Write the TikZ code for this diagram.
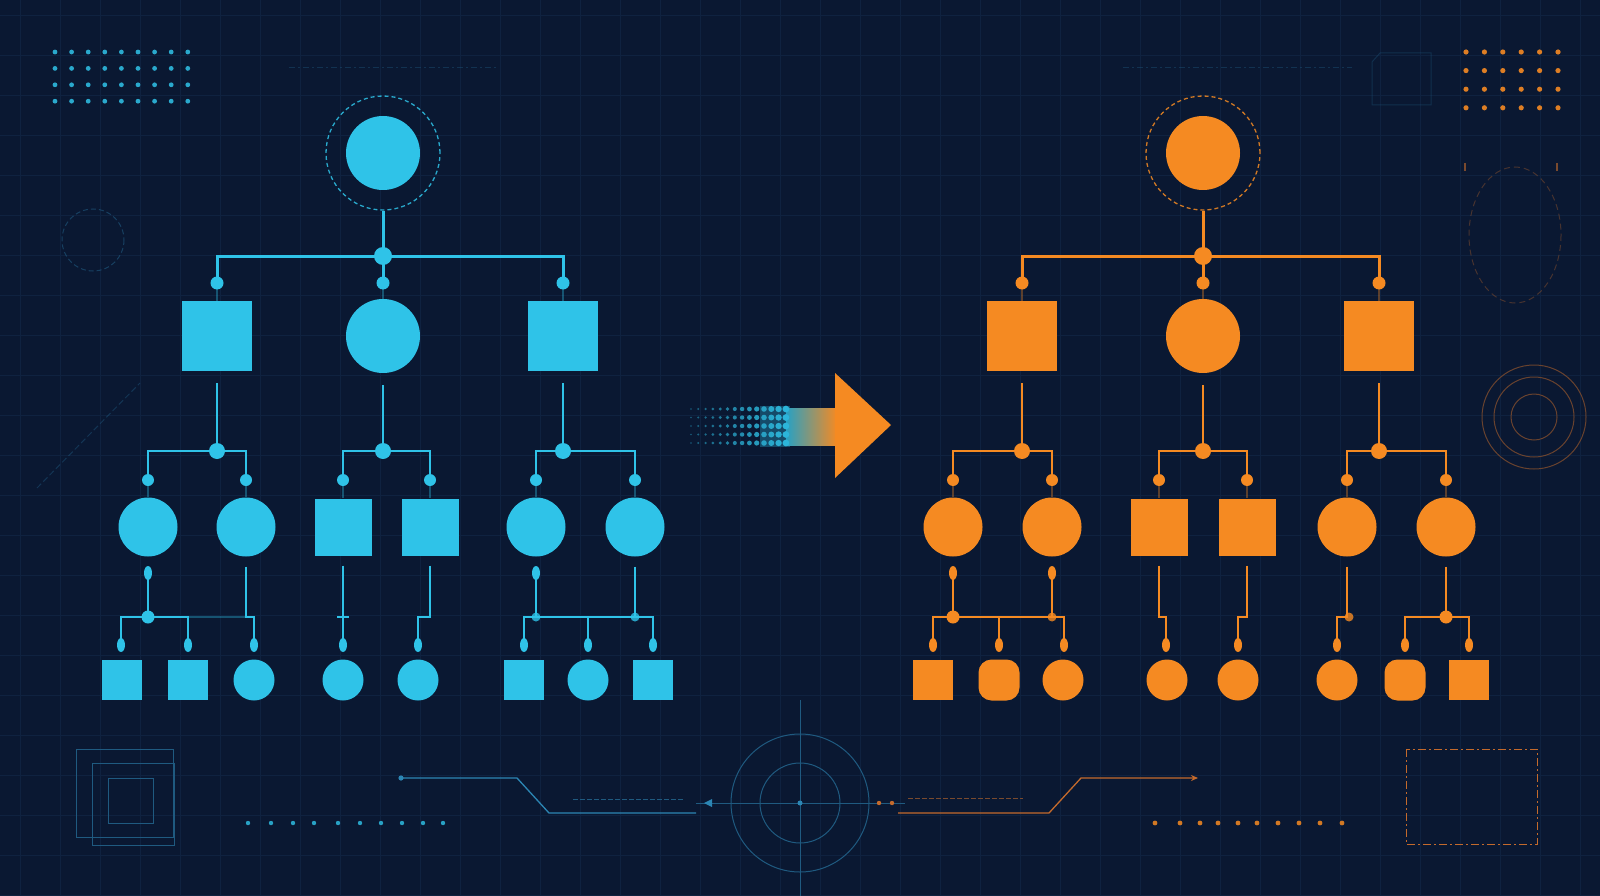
\documentclass[tikz,border=0pt]{standalone}
\usetikzlibrary{shapes.geometric,arrows.meta}
\definecolor{bg}{HTML}{0A1832}
\definecolor{cb}{HTML}{2FC3E8}
\definecolor{co}{HTML}{F58A22}
\definecolor{gridc}{HTML}{0F2240}
\definecolor{fb}{HTML}{1F5A80}
\definecolor{fbl}{HTML}{2C86B4}
\definecolor{fo}{HTML}{7A4A2E}
\definecolor{fol}{HTML}{C46A2C}
\tikzset{
  rootn/.style={circle, fill=tc, minimum size=74pt, inner sep=0pt},
  ringn/.style={circle, draw=tc, line width=1.3pt, dash pattern=on 4pt off 3pt, minimum size=114pt, inner sep=0pt, opacity=0.85},
  bigc/.style={circle, fill=tc, minimum size=74pt, inner sep=0pt},
  bigs/.style={rectangle, fill=tc, minimum size=70pt, inner sep=0pt},
  midc/.style={circle, fill=tc, minimum width=59pt, minimum height=58pt, inner sep=0pt},
  mids/.style={rectangle, fill=tc, minimum size=57pt, inner sep=0pt},
  smc/.style={ellipse, fill=tc, minimum width=41pt, minimum height=41pt, inner sep=0pt},
  sms/.style={rectangle, fill=tc, minimum size=40pt, inner sep=0pt},
  smr/.style={rectangle, rounded corners=13pt, fill=tc, minimum width=41pt, minimum height=41pt, inner sep=0pt},
  jbig/.style={circle, fill=tc, minimum size=18pt, inner sep=0pt},
  jmid/.style={circle, fill=tc, minimum size=16pt, inner sep=0pt},
  jsm/.style={circle, fill=tc, minimum size=13pt, inner sep=0pt},
  kdot/.style={circle, fill=tc, minimum size=13pt, inner sep=0pt},
  kdotb/.style={circle, fill=tc, minimum size=12pt, inner sep=0pt},
  drop/.style={ellipse, fill=tc, minimum width=8pt, minimum height=14pt, inner sep=0pt},
  blob/.style={circle, fill=tc, minimum size=9pt, inner sep=0pt, opacity=0.8},
  wa/.style={draw=tc, line width=3pt},
  wb/.style={draw=tc, line width=2.6pt},
  wc/.style={draw=tc, line width=2.3pt},
  faintl/.style={draw=tc, line width=1.4pt, opacity=0.35},
  deco/.style={line width=1pt},
}
\begin{document}
\begin{tikzpicture}[x=1pt,y=-1pt]
\useasboundingbox (0,0) rectangle (1600,896);
\fill[bg] (0,0) rectangle (1600,896);
% grid
\foreach \x in {20,60,...,1600} \draw[gridc, line width=0.7pt] (\x,0) -- (\x,896);
\foreach \y in {15,55,...,896} \draw[gridc, line width=0.7pt] (0,\y) -- (1600,\y);

% ---------- background decorations ----------
% top-left blue dot grid
\foreach \i in {0,...,8} \foreach \j in {0,...,3}
  \fill[cb!85!bg] (55+\i*16.6,52+\j*16.4) circle (2.4);
% top-right orange dot grid
\foreach \i in {0,...,5} \foreach \j in {0,...,3}
  \fill[co!90!bg] (1466+\i*18.4,52+\j*18.6) circle (2.6);
% faint top lines
\draw[fb, opacity=0.4, deco, dash pattern=on 6pt off 3pt on 2pt off 3pt] (289,68) -- (496,68);
\draw[fb, opacity=0.4, deco, dash pattern=on 6pt off 3pt on 2pt off 3pt] (1123,68) -- (1352,68);
% top-right faint box
\draw[fb, opacity=0.35, deco] (1380,53) -- (1431,53) -- (1431,105) -- (1372,105) -- (1372,62) -- cycle;
% left dashed circle
\draw[fb, opacity=0.6, deco, dash pattern=on 5pt off 3pt] (93,240) circle (31);
% left diagonal
\draw[fb, opacity=0.45, deco, dash pattern=on 6pt off 3pt] (37,488) -- (140,383);
% right dashed ellipse
\draw[fo, opacity=0.55, deco, dash pattern=on 6pt off 4pt] (1515,235) ellipse [x radius=46, y radius=68];
\draw[fo, line width=1.6pt] (1465,163) -- (1465,171);
\draw[fo, line width=1.6pt] (1557,163) -- (1557,171);
% right concentric circles
\draw[fo, deco, opacity=0.85] (1534,417) circle (52);
\draw[fo, deco, opacity=0.85] (1534,417) circle (40);
\draw[fo, deco, opacity=0.85] (1534,417) circle (23);
% bottom-left nested squares
\draw[fb, deco] (76,749) rectangle (173,837);
\draw[fb, deco] (92,763) rectangle (174,845);
\draw[fb, deco] (108,778) rectangle (153,823);
% bottom-left dot row
\foreach \x in {248,271,293,314,338,360,381,402,423,443} \fill[cb!80!bg] (\x,823) circle (2.2);
% bottom-right dot row
\foreach \x in {1155,1180,1200,1218,1238,1257,1278,1299,1320,1342} \fill[co!85!bg] (\x,823) circle (2.4);
% bottom-left circuit line
\fill[fbl] (401,778) circle (2.6);
\draw[fbl, line width=1.3pt] (401,778) -- (517,778) -- (549,813) -- (696,813);
\draw[fb, deco, dash pattern=on 5pt off 2pt] (573,799) -- (683,799);
% crosshair
\draw[fb, deco] (800,803) circle (40);
\draw[fb, deco] (800,803) circle (69);
\draw[fb, deco] (800,700) -- (800,896);
\draw[fb, deco] (696,803) -- (905,803);
\fill[fbl] (800,803) circle (2.5);
\fill[fbl] (704,803) -- (712,799) -- (712,807) -- cycle;
\fill[fol] (879,803) circle (2.2);
\fill[fol] (892,803) circle (2.2);
% bottom-right circuit line
\draw[fol, line width=1.3pt, -{Stealth[length=7pt,width=6pt]}] (898,813) -- (1049,813) -- (1081,778) -- (1198,778);
\draw[fo, deco, dash pattern=on 5pt off 2pt] (908,798) -- (1023,798);
% bottom-right dashed rect
\draw[fol, deco, dash pattern=on 8pt off 3pt on 2pt off 3pt] (1406,749) rectangle (1537,844);

% ---------- central arrow ----------
\fill[cb!30!bg] (760,406) rectangle (790,447);
\shade[left color=cb!80!bg, right color=co] (786,408) rectangle (837,445);
\fill[co] (835,373) -- (891,425) -- (835,478) -- cycle;
\foreach \i in {0,...,13} {
  \pgfmathsetmacro{\px}{691+\i*7.3}
  \pgfmathsetmacro{\pr}{0.9+\i*0.19}
  \pgfmathsetmacro{\pc}{40+\i*4}
  \foreach \y in {409,417.5,426,434.5,443}
    \fill[cb!\pc!bg] (\px,\y) circle (\pr);
}

% ================= LEFT TREE =================
\begin{scope}
\colorlet{tc}{cb}
\node[ringn] (Lring) at (383,153) {};
\node[rootn] (Lroot) at (383,153) {};
\node[jbig] (Lj0) at (383,256) {};
\node[kdot] (Lk1) at (217,283) {};
\node[kdot] (Lk2) at (383,283) {};
\node[kdot] (Lk3) at (563,283) {};
\node[bigs] (La) at (217,336) {};
\node[bigc] (Lb) at (383,336) {};
\node[bigs] (Lc) at (563,336) {};
\draw[wa] (Lring.south) -- (Lj0.center);
\draw[wa] (Lk1.center) |- (Lj0.center) -| (Lk3.center);
\draw[wa] (Lj0.center) -- (Lk2.center);
\draw[faintl] (Lk1.center) -- (La.north);
\draw[faintl] (Lk2.center) -- (Lb.north);
\draw[faintl] (Lk3.center) -- (Lc.north);
% level 2
\node[jmid] (Lja) at (217,451) {};
\node[jmid] (Ljb) at (383,451) {};
\node[jmid] (Ljc) at (563,451) {};
\draw[wb] ([yshift=-12pt]La.south) -- (Lja.center);
\draw[wb] ([yshift=-12pt]Lb.south) -- (Ljb.center);
\draw[wb] ([yshift=-12pt]Lc.south) -- (Ljc.center);
\node[kdotb] (Lk21) at (148,480) {};
\node[kdotb] (Lk22) at (246,480) {};
\node[kdotb] (Lk23) at (343,480) {};
\node[kdotb] (Lk24) at (430,480) {};
\node[kdotb] (Lk25) at (536,480) {};
\node[kdotb] (Lk26) at (635,480) {};
\draw[wb] (Lk21.center) |- (Lja.center) -| (Lk22.center);
\draw[wb] (Lk23.center) |- (Ljb.center) -| (Lk24.center);
\draw[wb] (Lk25.center) |- (Ljc.center) -| (Lk26.center);
\node[midc] (L21) at (148,527) {};
\node[midc] (L22) at (246,527) {};
\node[mids] (L23) at (343,527) {};
\node[mids] (L24) at (430,527) {};
\node[midc] (L25) at (536,527) {};
\node[midc] (L26) at (635,527) {};
\foreach \k/\n in {Lk21/L21,Lk22/L22,Lk23/L23,Lk24/L24,Lk25/L25,Lk26/L26}
  \draw[faintl] (\k.center) -- (\n.north);
% level 3, group A
\node[drop] (Ld21) at (148,573) {};
\node[jsm] (Lj21) at (148,617) {};
\draw[wc] ([yshift=-10pt]L21.south) -- (Lj21.center);
\node[drop] (Ld211) at (121,645) {};
\node[drop] (Ld212) at (188,645) {};
\draw[wc] (Ld211.center) |- (Lj21.center) -| (Ld212.center);
\node[sms] (L211) at (122,680) {};
\node[sms] (L212) at (188,680) {};
% group B
\coordinate (Lc22) at (246,617);
\node[drop] (Ld221) at (254,645) {};
\draw[wc] ([yshift=-10pt]L22.south) -- (Lc22) -| (Ld221.center);
\draw[faintl] (Ld212 |- Lj21) -- (Lc22);
\node[smc] (L221) at (254,680) {};
% group C
\node[drop] (Ld231) at (343,645) {};
\draw[wc] ([yshift=-10pt]L23.south) -- (Ld231.center);
\draw[wc] (337,617) -- (349,617);
\node[smc] (L231) at (343,680) {};
% group D
\coordinate (Lc24) at (430,617);
\node[drop] (Ld241) at (418,645) {};
\draw[wc] ([yshift=-10pt]L24.south) -- (Lc24) -| (Ld241.center);
\node[smc] (L241) at (418,680) {};
% group E
\node[drop] (Ld25) at (536,573) {};
\node[blob] (Lb25) at (536,617) {};
\node[blob] (Lb26) at (635,617) {};
\draw[wc] ([yshift=-10pt]L25.south) -- (Lb25.center);
\draw[wc] ([yshift=-10pt]L26.south) -- (Lb26.center);
\node[drop] (Ld251) at (524,645) {};
\node[drop] (Ld252) at (588,645) {};
\node[drop] (Ld253) at (653,645) {};
\draw[wc] (Ld251.center) |- (Lb25.center) -- (Lb26.center) -| (Ld253.center);
\draw[wc] (Ld252.center) -- (Ld252 |- Lb25);
\node[sms] (L251) at (524,680) {};
\node[smc] (L252) at (588,680) {};
\node[sms] (L253) at (653,680) {};
\end{scope}

% ================= RIGHT TREE =================
\begin{scope}
\colorlet{tc}{co}
\node[ringn] (Rring) at (1203,153) {};
\node[rootn] (Rroot) at (1203,153) {};
\node[jbig] (Rj0) at (1203,256) {};
\node[kdot] (Rk1) at (1022,283) {};
\node[kdot] (Rk2) at (1203,283) {};
\node[kdot] (Rk3) at (1379,283) {};
\node[bigs] (Ra) at (1022,336) {};
\node[bigc] (Rb) at (1203,336) {};
\node[bigs] (Rc) at (1379,336) {};
\draw[wa] (Rring.south) -- (Rj0.center);
\draw[wa] (Rk1.center) |- (Rj0.center) -| (Rk3.center);
\draw[wa] (Rj0.center) -- (Rk2.center);
\draw[faintl] (Rk1.center) -- (Ra.north);
\draw[faintl] (Rk2.center) -- (Rb.north);
\draw[faintl] (Rk3.center) -- (Rc.north);
% level 2
\node[jmid] (Rja) at (1022,451) {};
\node[jmid] (Rjb) at (1203,451) {};
\node[jmid] (Rjc) at (1379,451) {};
\draw[wb] ([yshift=-12pt]Ra.south) -- (Rja.center);
\draw[wb] ([yshift=-12pt]Rb.south) -- (Rjb.center);
\draw[wb] ([yshift=-12pt]Rc.south) -- (Rjc.center);
\node[kdotb] (Rk21) at (953,480) {};
\node[kdotb] (Rk22) at (1052,480) {};
\node[kdotb] (Rk23) at (1159,480) {};
\node[kdotb] (Rk24) at (1247,480) {};
\node[kdotb] (Rk25) at (1347,480) {};
\node[kdotb] (Rk26) at (1446,480) {};
\draw[wb] (Rk21.center) |- (Rja.center) -| (Rk22.center);
\draw[wb] (Rk23.center) |- (Rjb.center) -| (Rk24.center);
\draw[wb] (Rk25.center) |- (Rjc.center) -| (Rk26.center);
\node[midc] (R21) at (953,527) {};
\node[midc] (R22) at (1052,527) {};
\node[mids] (R23) at (1159,527) {};
\node[mids] (R24) at (1247,527) {};
\node[midc] (R25) at (1347,527) {};
\node[midc] (R26) at (1446,527) {};
\foreach \k/\n in {Rk21/R21,Rk22/R22,Rk23/R23,Rk24/R24,Rk25/R25,Rk26/R26}
  \draw[faintl] (\k.center) -- (\n.north);
% level 3, group A
\node[drop] (Rd21) at (953,573) {};
\node[drop] (Rd22) at (1052,573) {};
\node[jsm] (Rj21) at (953,617) {};
\node[blob] (Rb22) at (1052,617) {};
\draw[wc] ([yshift=-10pt]R21.south) -- (Rj21.center);
\draw[wc] ([yshift=-10pt]R22.south) -- (Rb22.center);
\node[drop] (Rd211) at (933,645) {};
\node[drop] (Rd212) at (999,645) {};
\node[drop] (Rd213) at (1064,645) {};
\draw[wc] (Rd211.center) |- (Rj21.center) -- (Rb22.center) -| (Rd213.center);
\draw[wc] (Rd212.center) -- (Rd212 |- Rj21);
\node[sms] (R211) at (933,680) {};
\node[smr] (R212) at (999,680) {};
\node[smc] (R213) at (1063,680) {};
% group B
\coordinate (Rc23) at (1159,617);
\node[drop] (Rd231) at (1166,645) {};
\draw[wc] ([yshift=-10pt]R23.south) -- (Rc23) -| (Rd231.center);
\node[smc] (R231) at (1167,680) {};
% group C
\coordinate (Rc24) at (1247,617);
\node[drop] (Rd241) at (1238,645) {};
\draw[wc] ([yshift=-10pt]R24.south) -- (Rc24) -| (Rd241.center);
\node[smc] (R241) at (1238,680) {};
% group D
\coordinate (Rc25) at (1347,617);
\node[drop] (Rd251) at (1337,645) {};
\draw[wc] ([yshift=-10pt]R25.south) -- (Rc25) -| (Rd251.center);
\node[blob] (Rb25) at (1349,617) {};
\node[smc] (R251) at (1337,680) {};
% group E
\node[jsm] (Rj26) at (1446,617) {};
\draw[wc] ([yshift=-10pt]R26.south) -- (Rj26.center);
\node[drop] (Rd261) at (1405,645) {};
\node[drop] (Rd262) at (1469,645) {};
\draw[wc] (Rd261.center) |- (Rj26.center) -| (Rd262.center);
\node[smr] (R261) at (1405,680) {};
\node[sms] (R262) at (1469,680) {};
\end{scope}
\end{tikzpicture}
\end{document}
